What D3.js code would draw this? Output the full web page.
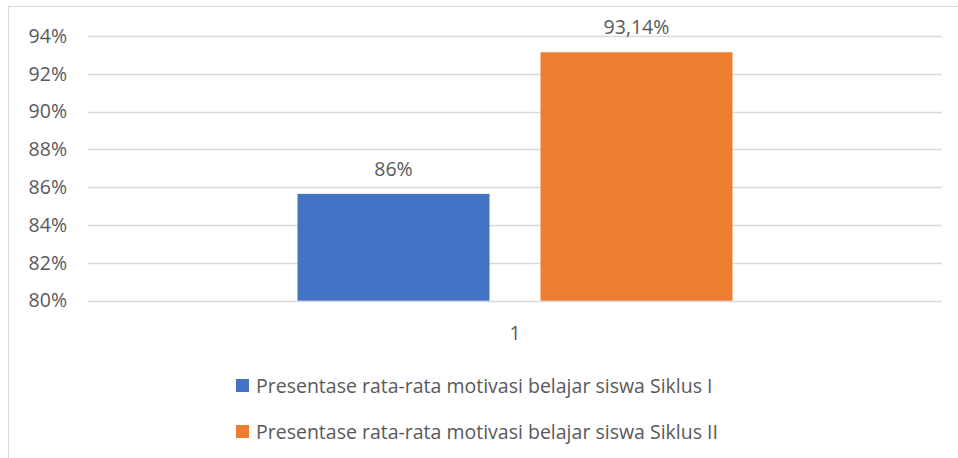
<!DOCTYPE html>
<html><head><meta charset="utf-8">
<script src="https://cdn.jsdelivr.net/npm/d3@7"></script>
<style>body{margin:0;background:#fff;} svg{display:block;} text{font-family:"Open Sans",sans-serif;fill:#595959;}</style>
</head><body><div id="chart"></div>
<script>
const categories = ["1"];
const seriesNames = ["Presentase rata-rata motivasi belajar siswa Siklus I","Presentase rata-rata motivasi belajar siswa Siklus II"];
const seriesValues = [85.65, 93.14];
const valueLabels = ["86%", "93,14%"];
const yTicks = [80, 82, 84, 86, 88, 90, 92, 94];
const colors = ["#4472C4", "#ED7D31"];

const W = 958, H = 458;
const FONT = "Open Sans, sans-serif";
const FS = 19.5;
const svg = d3.select("#chart").append("svg").attr("width", W).attr("height", H);
svg.append("rect").attr("x", 8.5).attr("y", 6.5).attr("width", W).attr("height", H).attr("fill", "#fff").attr("stroke", "#d9d9d9");

const plotL = 88, plotR = 942, plotT = 36, plotB = 300.7;
const y = d3.scaleLinear().domain([80, 94]).range([plotB, plotT]);
const x0 = d3.scaleBand().domain(categories).range([plotL, plotR]).paddingInner(0).paddingOuter(0.4816);
const x1 = d3.scaleBand().domain(seriesNames).range([0, x0.bandwidth()]).paddingInner(0.21).paddingOuter(0);

// gridlines
svg.append("g").selectAll("line").data(yTicks).join("line")
  .attr("x1", plotL).attr("x2", plotR)
  .attr("y1", d => Math.round(y(d)) + 0.5).attr("y2", d => Math.round(y(d)) + 0.5)
  .attr("stroke", "#d9d9d9").attr("stroke-width", 1.3);

// y axis labels
const yAxis = d3.axisLeft(y).tickValues(yTicks).tickFormat(d => d + "%").tickSize(0).tickPadding(0);
const ga = svg.append("g").attr("transform", `translate(67,0)`).call(yAxis);
ga.select(".domain").remove();
ga.selectAll("text").attr("font-size", FS).attr("fill", "#595959").attr("font-family", FONT);

// bars
const data = seriesNames.map((s, i) => ({s, v: seriesValues[i], label: valueLabels[i], c: colors[i]}));
const g = svg.append("g").attr("transform", `translate(${x0(categories[0])},0)`);
g.selectAll("rect").data(data).join("rect")
  .attr("x", d => x1(d.s)).attr("width", x1.bandwidth())
  .attr("y", d => y(d.v)).attr("height", d => y(80) - y(d.v))
  .attr("fill", d => d.c);
g.selectAll("text.val").data(data).join("text").attr("class", "val")
  .attr("x", d => x1(d.s) + x1.bandwidth() / 2).attr("y", d => y(d.v) - 18)
  .attr("text-anchor", "middle").attr("font-size", FS).text(d => d.label);

// x axis label
svg.append("text").attr("x", x0(categories[0]) + x0.bandwidth() / 2).attr("y", 340)
  .attr("text-anchor", "middle").attr("font-size", FS).text(categories[0]);

// legend
const lg = svg.append("g");
data.forEach((d, i) => {
  const yy = 379 + i * 46;
  lg.append("rect").attr("x", 236).attr("y", yy).attr("width", 13).attr("height", 13).attr("fill", d.c);
  lg.append("text").attr("x", 256).attr("y", yy + 14).attr("font-size", FS).text(d.s);
});
</script></body></html>
